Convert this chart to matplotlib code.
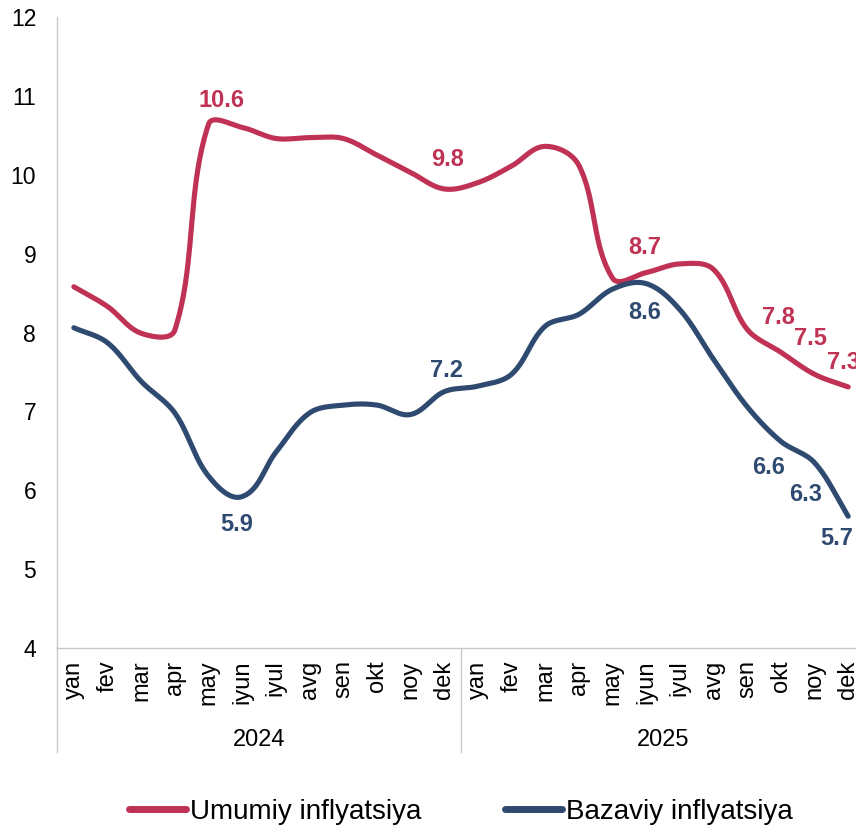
import numpy as np
import matplotlib
matplotlib.use("Agg")
import matplotlib.pyplot as plt
from matplotlib.lines import Line2D

plt.rcParams['font.family'] = ['Liberation Sans', 'DejaVu Sans']

months = ["yan", "fev", "mar", "apr", "may", "iyun", "iyul", "avg", "sen", "okt", "noy", "dek"]
years = ["2024", "2025"]
categories = months * 2

umumiy = [8.58, 8.33, 7.99, 8.03, 10.64, 10.60, 10.46, 10.47, 10.46, 10.25, 10.03, 9.82,
          9.90, 10.11, 10.36, 10.12, 8.69, 8.76, 8.87, 8.80, 8.04, 7.75, 7.47, 7.31]
bazaviy = [8.06, 7.87, 7.38, 6.98, 6.18, 5.92, 6.48, 6.98, 7.08, 7.08, 6.96, 7.25,
           7.32, 7.47, 8.08, 8.23, 8.55, 8.62, 8.29, 7.66, 7.06, 6.62, 6.35, 5.67]

series_names = ["Umumiy inflyatsiya", "Bazaviy inflyatsiya"]
colors = ["#BF3253", "#2F4A70"]

# data labels: (index, text)
umumiy_labels = [(4, "10.6"), (11, "9.8"), (17, "8.7"), (21, "7.8"), (22, "7.5"), (23, "7.3")]
bazaviy_labels = [(5, "5.9"), (11, "7.2"), (17, "8.6"), (21, "6.6"), (22, "6.3"), (23, "5.7")]
# offsets in pixels (x right, y up)
umumiy_offsets = [(13, 24), (3, 29), (-1, 25), (-2, 35), (-4, 36), (-5, 24)]
bazaviy_offsets = [(-5, -28), (2, 21), (-1, -29), (-12, -26), (-9, -32), (-11, -22)]


def smooth(y, yscale, n=40):
    """Smoothed bezier through points; arms proportional to segment length (in pixel space)."""
    y = np.asarray(y, dtype=float)
    x = np.arange(len(y), dtype=float)
    P = np.column_stack([x, y * yscale])
    Pext = np.vstack([P[0], P, P[-1]])
    tang = Pext[2:] - Pext[:-2]
    norms = np.linalg.norm(tang, axis=1)
    norms[norms == 0] = 1
    U = tang / norms[:, None]
    out = []
    t = np.linspace(0, 1, n, endpoint=False)[:, None]
    for i in range(len(P) - 1):
        p1, p2 = P[i], P[i + 1]
        L = np.linalg.norm(p2 - p1) / 3.0
        c1 = p1 + U[i] * L
        c2 = p2 - U[i + 1] * L
        seg = ((1 - t) ** 3) * p1 + 3 * ((1 - t) ** 2) * t * c1 + 3 * (1 - t) * t ** 2 * c2 + t ** 3 * p2
        out.append(seg)
    out.append(P[-1][None, :])
    out = np.vstack(out)
    return out[:, 0], out[:, 1] / yscale


W, H = 856, 827
fig = plt.figure(figsize=(W / 100, H / 100), dpi=100)
ax_left, ax_right, ax_top, ax_bottom = 57, 865, 17, 648
ax = fig.add_axes([ax_left / W, (H - ax_bottom) / H, (ax_right - ax_left) / W, (ax_bottom - ax_top) / H])

ymin, ymax = 4, 12
ncat = len(categories)
px_per_cat = (ax_right - ax_left) / ncat
px_per_unit = (ax_bottom - ax_top) / (ymax - ymin)
yscale = px_per_unit / px_per_cat

for vals, col, name in zip([umumiy, bazaviy], colors, series_names):
    sx, sy = smooth(vals, yscale)
    ax.plot(sx, sy, color=col, lw=3.7, solid_capstyle='round', label=name, clip_on=False)

for vals, labs, offs, col in [(umumiy, umumiy_labels, umumiy_offsets, colors[0]),
                               (bazaviy, bazaviy_labels, bazaviy_offsets, colors[1])]:
    for (i, txt), (dx, dy) in zip(labs, offs):
        ax.annotate(txt, xy=(i, vals[i]), xytext=(dx, dy), textcoords='offset pixels',
                    ha='center', va='center', fontsize=17, fontweight='bold', color=col,
                    annotation_clip=False)

ax.set_xlim(-0.5, ncat - 0.5)
ax.set_ylim(ymin, ymax)
ax.set_yticks(range(ymin, ymax + 1))
ax.set_yticklabels([str(v) for v in range(ymin, ymax + 1)], fontsize=16.5)
ax.set_xticks(range(ncat))
ax.set_xticklabels(categories, rotation=90, fontsize=17, va='top', ha='center')
ax.tick_params(axis='both', length=0)
ax.tick_params(axis='y', pad=15)
ax.tick_params(axis='x', pad=9)

for s in ['top', 'right']:
    ax.spines[s].set_visible(False)
for s in ['left', 'bottom']:
    ax.spines[s].set_color('#C8C8C8')
    ax.spines[s].set_linewidth(1.0)

axh = ax_bottom - ax_top
ext = (752 - ax_bottom) / axh
trans = ax.get_xaxis_transform()
ax.add_line(Line2D([-0.5, -0.5], [0, -ext], transform=trans, color='#C8C8C8', lw=1.0, clip_on=False))
ax.add_line(Line2D([11.5, 11.5], [0, -ext], transform=trans, color='#C8C8C8', lw=1.0, clip_on=False))

year_y = -(740 - ax_bottom) / axh
for k, yr in enumerate(years):
    ax.text(5.5 + 12 * k, year_y, yr, transform=trans, ha='center', va='center', fontsize=17)

handles = [Line2D([], [], color=c, lw=5, solid_capstyle='round') for c in colors]
fig.legend(handles, series_names, loc='center', bbox_to_anchor=(461 / W, (H - 812) / H),
           ncol=2, frameon=False, fontsize=20, handlelength=2.05, handletextpad=0.15,
           columnspacing=3.0, borderaxespad=0, borderpad=0)

fig.savefig("out.png", dpi=100)
